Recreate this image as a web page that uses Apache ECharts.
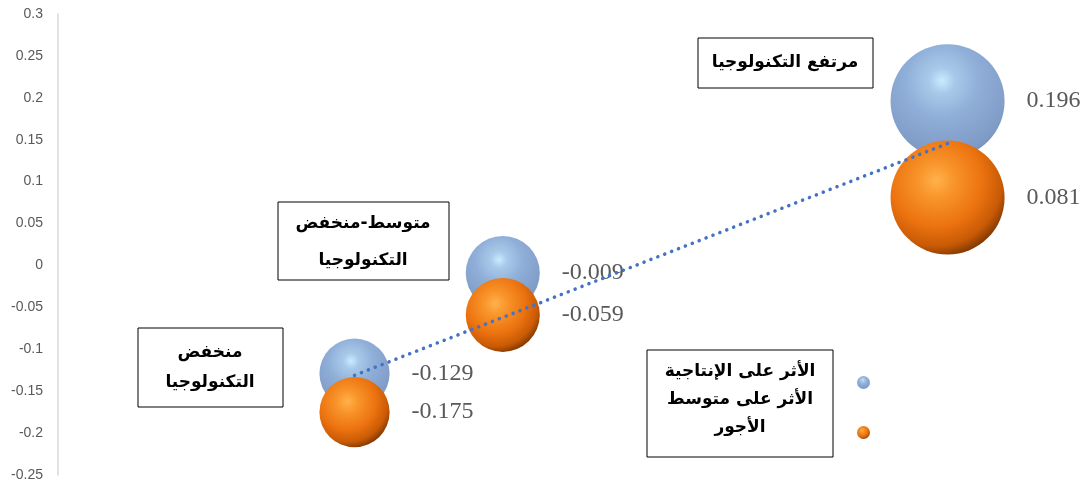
<!DOCTYPE html>
<html>
<head>
<meta charset="utf-8">
<script src="https://cdn.jsdelivr.net/npm/echarts@6/dist/echarts.min.js"></script>
<style>
html,body{margin:0;padding:0;background:#fff;}
#chart{width:1087px;height:489px;}
</style>
</head>
<body>
<div id="chart"></div>
<script>
// ---- data ----
var categories = ['منخفض\nالتكنولوجيا', 'متوسط-منخفض\nالتكنولوجيا', 'مرتفع التكنولوجيا'];
var xValues = [1, 2, 5];
var productivity = [-0.129, -0.009, 0.196];
var wages = [-0.175, -0.059, 0.081];
var bubbleValues = [12.3, 13.7, 32.5];
var seriesNames = ['الأثر على الإنتاجية', 'الأثر على متوسط\nالأجور'];
var yMin = -0.25, yMax = 0.3, yStep = 0.05;

// linear trendline over all points
function trend() {
  var xs = xValues.concat(xValues), ys = productivity.concat(wages);
  var n = xs.length, mx = 0, my = 0;
  for (var i = 0; i < n; i++) { mx += xs[i]; my += ys[i]; }
  mx /= n; my /= n;
  var sxy = 0, sxx = 0;
  for (i = 0; i < n; i++) { sxy += (xs[i]-mx)*(ys[i]-my); sxx += (xs[i]-mx)*(xs[i]-mx); }
  var b = sxy / sxx, a = my - b*mx;
  var x0 = Math.min.apply(null, xValues), x1 = Math.max.apply(null, xValues);
  return [[x0, a + b*x0], [x1, a + b*x1]];
}

function pts(vals) {
  return vals.map(function (v, i) { return [xValues[i], v, bubbleValues[i]]; });
}

var blueGrad = {type:'radial', x:0.45, y:0.32, r:0.75, colorStops:[
  {offset:0, color:'#c8ecff'}, {offset:0.15, color:'#a9c9ea'}, {offset:0.45, color:'#8eadd7'}, {offset:0.85, color:'#7e9bc6'}, {offset:1, color:'#6a85b0'}]};
var orangeGrad = {type:'radial', x:0.4, y:0.35, r:0.8, colorStops:[
  {offset:0, color:'#ffb24a'}, {offset:0.2, color:'#f8942a'}, {offset:0.5, color:'#ec7310'}, {offset:0.72, color:'#c95a05'}, {offset:0.88, color:'#6e3000'}, {offset:1, color:'#301400'}]};

var labelStyle = {show:true, position:'right', distance:22, color:'#595959', fontFamily:'Liberation Serif', fontSize:24,
  formatter: function (p) { return p.value[1].toFixed(3); }};

var chart = echarts.init(document.getElementById('chart'));
var tl = trend();

function box(x, y, w, h, text, cx, cy, lh) {
  return {type:'group', children:[
    {type:'rect', shape:{x:x, y:y, width:w, height:h}, style:{fill:'#fff', stroke:'#000', lineWidth:1}},
    {type:'text', x:cx, y:cy, style:{text:text, fill:'#000', font:'bold 17px "DejaVu Sans"', align:'center', verticalAlign:'middle', lineHeight:lh}}
  ], z:100};
}

chart.setOption({
  animation:false,
  grid:{left:58, right:6, top:14, bottom:14},
  xAxis:{type:'value', min:-1, max:5.9, show:false},
  yAxis:{type:'value', min:yMin, max:yMax, interval:yStep,
    axisLine:{show:true, onZero:false, lineStyle:{color:'#d9d9d9', width:1.5}},
    axisTick:{show:false}, splitLine:{show:false},
    axisLabel:{color:'#595959', fontFamily:'Liberation Sans', fontSize:14, margin:15,
      formatter:function (v) { return String(Math.round(v*100)/100); }}},
  series:[
    {type:'scatter', name:seriesNames[0], data:pts(productivity),
     symbolSize:function (d) { return 20*Math.sqrt(d[2]); },
     itemStyle:{color:blueGrad, opacity:1}, label:labelStyle, z:2},
    {type:'scatter', name:seriesNames[1], data:pts(wages),
     symbolSize:function (d) { return 20*Math.sqrt(d[2]); },
     itemStyle:{color:orangeGrad, opacity:1}, label:labelStyle, z:3},
    {type:'line', data:tl, symbol:'none', silent:true, z:5,
     lineStyle:{color:'#4472c4', width:3.5, type:[0.1, 7.3], cap:'round'}}
  ],
  legend:{show:true, orient:'vertical', left:851, top:371, itemWidth:15, itemHeight:13, itemGap:37,
    icon:'circle', data:seriesNames, formatter:function(){return '';}, selectedMode:false},
  graphic:[
    box(698, 38, 175, 50, categories[2], 785, 63, 30),
    box(278, 202, 171, 78, categories[1], 363, 242, 37),
    box(138, 328, 145, 79, categories[0], 210, 368, 30),
    box(647, 350, 186, 107, seriesNames[0] + '\n' + seriesNames[1], 740, 400, 28)
  ]
});
</script>
</body>
</html>
